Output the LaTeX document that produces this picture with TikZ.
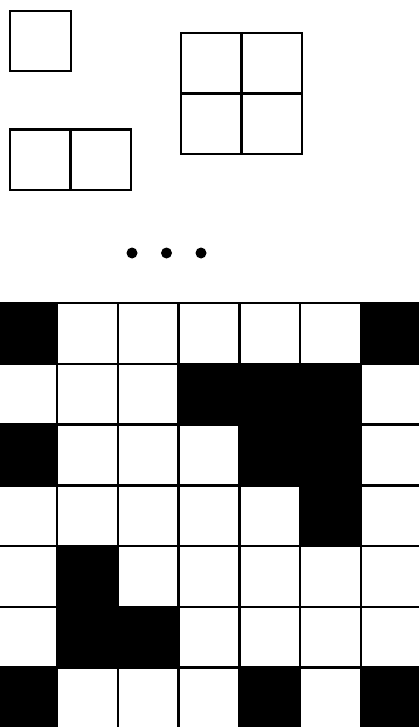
\documentclass[tikz,border=0pt]{standalone}
\usetikzlibrary{positioning}

\begin{document}
\begin{tikzpicture}[
    x=1pt, y=-1pt,
    cell/.style={draw, line width=2.5pt},
    blackcell/.style={fill=black},
    dot/.style={circle, fill=black, inner sep=0pt, minimum size=11pt}
]
\useasboundingbox (0,0) rectangle (419,727);

% === Piezas ===
\draw[cell] (10,11) rectangle (71,71);
\draw[cell] (10,129.5) rectangle (131,190);
\draw[cell] (70.5,129.5) -- (70.5,190);
\draw[cell] (181,33) rectangle (302,154);
\draw[cell] (241.5,33) -- (241.5,154);
\draw[cell] (181,93.5) -- (302,93.5);

% === Puntos ===
\node[dot] (p1) at (132,253) {};
\node[dot] (p2) at (166.5,253) {};
\node[dot] (p3) at (201,253) {};

% === Tablero ===
\begin{scope}
    \clip (0,0) rectangle (419,727);
    \begin{scope}[shift={(-3.7,303)}, x=60.75pt, y=-60.75pt]
        % casillas negras (fila/columna)
        \foreach \r/\c in {0/0, 0/6, 1/3, 1/4, 1/5, 2/0, 2/4, 2/5, 3/5,
                           4/1, 5/1, 5/2, 6/0, 6/4, 6/6}
            \fill[blackcell] (\c,\r) rectangle ++(1,1);
        % lineas
        \foreach \i in {0,...,7} {
            \draw[cell] (\i,0) -- (\i,7);
            \draw[cell] (0,\i) -- (7,\i);
        }
    \end{scope}
\end{scope}

\end{tikzpicture}
\end{document}
